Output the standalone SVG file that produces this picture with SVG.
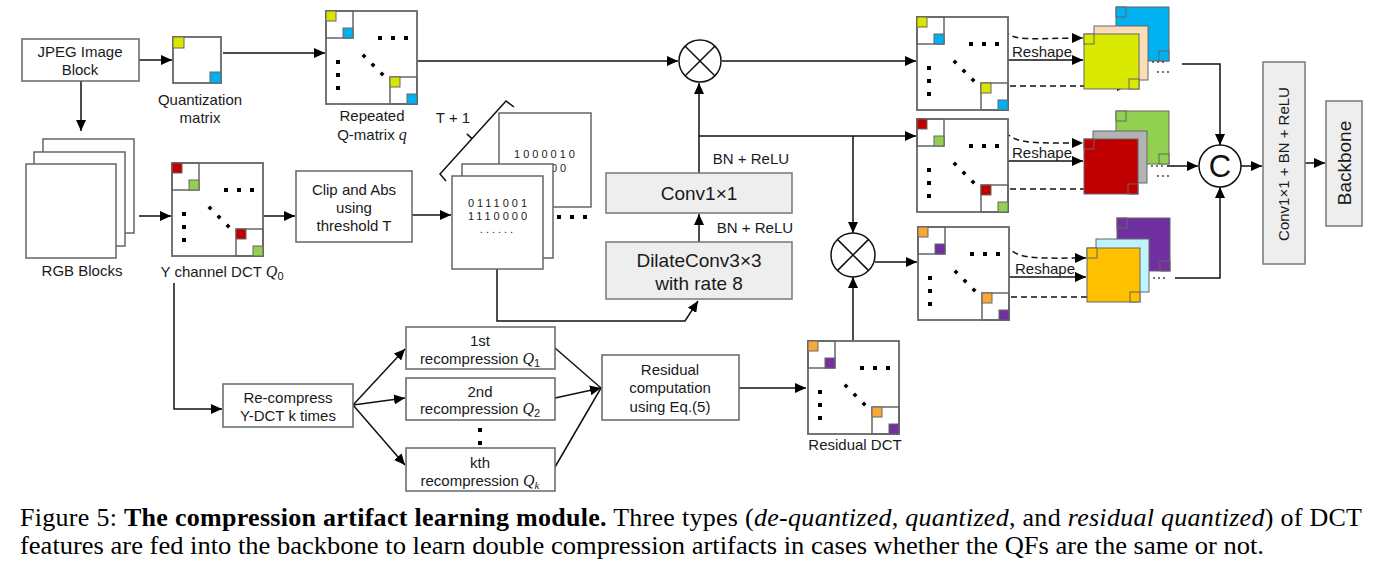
<svg xmlns="http://www.w3.org/2000/svg" xmlns:xlink="http://www.w3.org/1999/xlink" width="1382" height="566" viewBox="0 0 1382 566">
<style>
.t{font-family:"Liberation Sans",Arial,sans-serif;font-size:15px;fill:#1a1a1a;text-anchor:middle}
.tl{font-family:"Liberation Sans",Arial,sans-serif;font-size:19px;fill:#1a1a1a;text-anchor:middle}
.bin{font-family:"Liberation Sans",Arial,sans-serif;font-size:11px;letter-spacing:3px;fill:#222;text-anchor:middle}
.m{font-family:"Liberation Serif","Times New Roman",serif;font-style:italic}
.box{fill:#fff;stroke:#666;stroke-width:1.5}
.gbox{fill:#eeeeee;stroke:#777;stroke-width:1.5}
.mf{fill:#fff;stroke:#666;stroke-width:1.8}
.ms{fill:none;stroke:#666;stroke-width:1.5}
.sq{stroke:#666;stroke-width:1}
.ln{fill:none;stroke:#111;stroke-width:1.5}
.ar{fill:none;stroke:#111;stroke-width:1.5;marker-end:url(#ah)}
.da{fill:none;stroke:#111;stroke-width:1.5;stroke-dasharray:6 4;marker-end:url(#ah)}
.cir{fill:#fff;stroke:#111;stroke-width:1.5}
.cap{font-family:"Liberation Serif","Times New Roman",serif;font-size:26px;fill:#000}
.dot{fill:#000}
.sd{fill:#333}
</style>
<defs>
<marker id="ah" markerUnits="userSpaceOnUse" markerWidth="11" markerHeight="10" refX="11" refY="5" orient="auto">
<path d="M0,0 L11,5 L0,10 z" fill="#000"/>
</marker>
<g id="mtx">
<rect x="0" y="0" width="91" height="93" class="mf"/>
<rect x="0" y="0" width="27" height="27" class="ms"/>
<rect x="64" y="66" width="27" height="27" class="ms"/>
<rect x="52" y="25" width="4" height="4" class="dot"/>
<rect x="65" y="25" width="4" height="4" class="dot"/>
<rect x="78" y="25" width="4" height="4" class="dot"/>
<rect x="10" y="49" width="4" height="4" class="dot"/>
<rect x="10" y="62" width="4" height="4" class="dot"/>
<rect x="10" y="75" width="4" height="4" class="dot"/>
<polygon points="38,42.5 40.5,45 38,47.5 35.5,45" class="dot"/>
<polygon points="47,51.5 49.5,54 47,56.5 44.5,54" class="dot"/>
<polygon points="56,60.5 58.5,63 56,65.5 53.5,63" class="dot"/>
</g>
<g id="ell">
<circle cx="0" cy="0" r="0.9" class="sd"/>
<circle cx="5" cy="0" r="0.9" class="sd"/>
<circle cx="10" cy="0" r="0.9" class="sd"/>
</g>
</defs>
<rect width="1382" height="566" fill="#fff"/>

<g id="connectors">
<path class="ar" d="M139,60 H172"/>
<path class="ar" d="M223,53 H325"/>
<path class="ar" d="M81,81 V131"/>
<path class="ar" d="M139,216 H171"/>
<path class="ar" d="M263,216 H295"/>
<path class="ar" d="M412,215 H451"/>
<path class="ar" d="M497,269 V321 H685 L698,301"/>
<path class="ar" d="M699,242 V214"/>
<path class="ar" d="M699,173 V83"/>
<path class="ar" d="M418,61 H678"/>
<path class="ar" d="M722,61 H916"/>
<path class="ar" d="M699,136 H916"/>
<path class="ar" d="M853,136 V233"/>
<path class="ar" d="M853,341 V277"/>
<path class="ar" d="M875,262 H917"/>
<path class="ar" d="M174,283 V409 H222"/>
<path class="ar" d="M353,405 L405,349"/>
<path class="ar" d="M353,405 L405,398"/>
<path class="ar" d="M353,405 L405,465"/>
<path class="ln" d="M555,348 L601,388"/>
<path class="ar" d="M555,398 L601,388"/>
<path class="ln" d="M555,467 L601,388"/>
<path class="ar" d="M739,388 H806"/>
<path class="da" d="M924,24 C975,27 1000,29 1010,35 S1045,38 1083,38"/>
<path class="ar" d="M1008,60 H1083"/>
<path class="da" d="M990,86 H1128"/>
<path class="da" d="M926,124 C980,125 1000,128 1010,136 S1045,143 1083,143"/>
<path class="ar" d="M1008,161 H1083"/>
<path class="da" d="M990,189 H1128"/>
<path class="da" d="M927,232 C980,234 1000,238 1010,249 S1045,258 1086,258"/>
<path class="ar" d="M1009,277 H1086"/>
<path class="da" d="M991,297 H1128"/>
<path class="ar" d="M1182,64 H1220 V145"/>
<path class="ar" d="M1167,166 H1198"/>
<path class="ar" d="M1175,278 H1220 V187"/>
<path class="ar" d="M1241,166 H1262"/>
<path class="ar" d="M1305,163 H1325"/>
</g>

<g id="jpeg-block">
<rect x="22" y="39" width="117" height="42" class="box"/>
<text class="t" x="80" y="57">JPEG Image</text>
<text class="t" x="80" y="75">Block</text>
</g>

<g id="quant-matrix">
<rect x="173" y="37" width="48" height="46" class="mf"/>
<rect x="173" y="37" width="11" height="11" fill="#d9e600" class="sq"/>
<rect x="210" y="72" width="11" height="11" fill="#00b0f0" class="sq"/>
<text class="t" x="200" y="105">Quantization</text>
<text class="t" x="200" y="123">matrix</text>
</g>

<g id="repeated-q">
<use href="#mtx" x="326" y="11"/>
<rect x="326" y="11" width="10" height="10" fill="#d9e600" class="sq"/>
<rect x="343" y="28" width="10" height="10" fill="#00b0f0" class="sq"/>
<rect x="390" y="77" width="10" height="10" fill="#d9e600" class="sq"/>
<rect x="407" y="94" width="10" height="10" fill="#00b0f0" class="sq"/>
<text class="t" x="372" y="121">Repeated</text>
<text class="t" x="372" y="140">Q-matrix <tspan class="m" font-size="16">q</tspan></text>
</g>

<g id="rgb-blocks">
<rect x="43" y="139" width="91" height="94" class="box"/>
<rect x="34" y="152" width="91" height="94" class="box"/>
<rect x="26" y="164" width="90" height="94" class="box"/>
<text class="t" x="82" y="276">RGB Blocks</text>
</g>

<g id="y-dct">
<use href="#mtx" x="172" y="163"/>
<rect x="172" y="163" width="10" height="10" fill="#c00000" class="sq"/>
<rect x="189" y="180" width="10" height="10" fill="#92d050" class="sq"/>
<rect x="236" y="229" width="10" height="10" fill="#c00000" class="sq"/>
<rect x="253" y="246" width="10" height="10" fill="#92d050" class="sq"/>
<text class="t" x="222" y="277">Y channel DCT <tspan class="m" font-size="16">Q</tspan><tspan font-size="11" dy="3">0</tspan></text>
</g>

<g id="clip-abs">
<rect x="296" y="171" width="116" height="71" class="box"/>
<text class="t" x="354" y="195">Clip and Abs</text>
<text class="t" x="354" y="213">using</text>
<text class="t" x="354" y="231">threshold T</text>
</g>

<g id="binary-maps">
<rect x="499" y="113" width="92" height="94" class="box"/>
<text class="bin" x="546" y="158">1000010</text>
<text class="bin" x="560" y="172" text-anchor="start">00</text>
<rect x="462" y="164" width="91" height="94" class="box"/>
<rect x="452" y="176" width="91" height="93" class="box"/>
<text class="bin" x="499" y="207">0111001</text>
<text class="bin" x="499" y="220">1110000</text>
<text class="bin" x="498" y="233" font-size="9" letter-spacing="0">......</text>
<rect x="557" y="215" width="4" height="4" class="dot"/>
<rect x="570" y="215" width="4" height="4" class="dot"/>
<rect x="583" y="215" width="4" height="4" class="dot"/>
<path class="ln" d="M446,181 L440,174 L506,101 L514,107 M472,138.6 L466.8,133.9"/>
<text class="t" x="453" y="123">T + 1</text>
</g>

<g id="dilate-conv">
<rect x="606" y="242" width="186" height="57" class="gbox"/>
<text class="tl" x="699" y="267">DilateConv3×3</text>
<text class="tl" x="699" y="290">with rate 8</text>
<text class="t" x="755" y="233">BN + ReLU</text>
</g>

<g id="conv1x1">
<rect x="606" y="173" width="186" height="40" class="gbox"/>
<text class="tl" x="699" y="200">Conv1×1</text>
<text class="t" x="751" y="164">BN + ReLU</text>
</g>

<g id="multiply-1">
<circle cx="700" cy="61" r="21" class="cir"/>
<path class="ln" d="M685.2,46.2 L714.8,75.8 M714.8,46.2 L685.2,75.8"/>
</g>

<g id="multiply-2">
<circle cx="853" cy="255" r="22" class="cir"/>
<path class="ln" d="M837.4,239.4 L868.6,270.6 M868.6,239.4 L837.4,270.6"/>
</g>

<g id="recompress">
<rect x="223" y="384" width="130" height="43" class="box"/>
<text class="t" x="288" y="403">Re-compress</text>
<text class="t" x="288" y="421">Y-DCT k times</text>
</g>

<g id="recomp-1">
<rect x="406" y="327" width="149" height="42" class="box"/>
<text class="t" x="480" y="346">1st</text>
<text class="t" x="480" y="364">recompression <tspan class="m" font-size="16">Q</tspan><tspan font-size="11" dy="3">1</tspan></text>
</g>

<g id="recomp-2">
<rect x="406" y="378" width="149" height="42" class="box"/>
<text class="t" x="480" y="397">2nd</text>
<text class="t" x="480" y="414">recompression <tspan class="m" font-size="16">Q</tspan><tspan font-size="11" dy="3">2</tspan></text>
</g>

<g id="recomp-dots">
<rect x="478" y="428" width="4" height="4" class="dot"/>
<rect x="478" y="441" width="4" height="4" class="dot"/>
</g>

<g id="recomp-k">
<rect x="406" y="448" width="149" height="43" class="box"/>
<text class="t" x="480" y="468">kth</text>
<text class="t" x="480" y="486">recompression <tspan class="m" font-size="16">Q</tspan><tspan class="m" font-size="11" dy="3">k</tspan></text>
</g>

<g id="residual-comp">
<rect x="602" y="355" width="137" height="65" class="box"/>
<text class="t" x="670" y="375">Residual</text>
<text class="t" x="670" y="393">computation</text>
<text class="t" x="670" y="412">using Eq.(5)</text>
</g>

<g id="residual-dct">
<use href="#mtx" x="808" y="341"/>
<rect x="808" y="341" width="10" height="10" fill="#f6a93b" class="sq"/>
<rect x="825" y="358" width="10" height="10" fill="#7030a0" class="sq"/>
<rect x="872" y="407" width="10" height="10" fill="#f6a93b" class="sq"/>
<rect x="889" y="424" width="10" height="10" fill="#7030a0" class="sq"/>
<text class="t" x="855" y="450">Residual DCT</text>
</g>

<g id="dct-row1">
<use href="#mtx" x="917" y="17"/>
<rect x="917" y="17" width="10" height="10" fill="#d9e600" class="sq"/>
<rect x="934" y="34" width="10" height="10" fill="#00b0f0" class="sq"/>
<rect x="981" y="83" width="10" height="10" fill="#d9e600" class="sq"/>
<rect x="998" y="100" width="10" height="10" fill="#00b0f0" class="sq"/>
</g>

<g id="dct-row2">
<use href="#mtx" x="917" y="119"/>
<rect x="917" y="119" width="10" height="10" fill="#c00000" class="sq"/>
<rect x="934" y="136" width="10" height="10" fill="#92d050" class="sq"/>
<rect x="981" y="185" width="10" height="10" fill="#c00000" class="sq"/>
<rect x="998" y="202" width="10" height="10" fill="#92d050" class="sq"/>
</g>

<g id="dct-row3">
<use href="#mtx" x="918" y="227"/>
<rect x="918" y="227" width="10" height="10" fill="#f6a93b" class="sq"/>
<rect x="935" y="244" width="10" height="10" fill="#7030a0" class="sq"/>
<rect x="982" y="293" width="10" height="10" fill="#f6a93b" class="sq"/>
<rect x="999" y="310" width="10" height="10" fill="#7030a0" class="sq"/>
</g>

<g id="reshape-labels">
<text class="t" x="1042" y="57">Reshape</text>
<text class="t" x="1042" y="158">Reshape</text>
<text class="t" x="1045" y="274">Reshape</text>
</g>

<g id="stack-row1">
<rect x="1116" y="7" width="53" height="54" fill="#00b0f0" class="sq" stroke-width="1.5"/>
<rect x="1116" y="7" width="10" height="10" fill="#00b0f0" class="sq"/>
<rect x="1159" y="51" width="10" height="10" fill="#00b0f0" class="sq"/>
<rect x="1094" y="26" width="54" height="54" fill="#fbdcb8" class="sq" stroke-width="1.5"/>
<rect x="1084" y="34" width="55" height="55" fill="#d9ea00" class="sq" stroke-width="1.5"/>
<rect x="1084" y="34" width="10" height="10" fill="#d9ea00" class="sq"/>
<rect x="1129" y="79" width="10" height="10" fill="#d9ea00" class="sq"/>
<use href="#ell" x="1153" y="62"/>
<use href="#ell" x="1158" y="72"/>
</g>

<g id="stack-row2">
<rect x="1116" y="111" width="53" height="53" fill="#92d050" class="sq" stroke-width="1.5"/>
<rect x="1116" y="111" width="10" height="10" fill="#92d050" class="sq"/>
<rect x="1159" y="154" width="10" height="10" fill="#92d050" class="sq"/>
<rect x="1093" y="131" width="54" height="52" fill="#b3b3b3" class="sq" stroke-width="1.5"/>
<rect x="1084" y="139" width="54" height="55" fill="#c00000" class="sq" stroke-width="1.5"/>
<rect x="1084" y="139" width="10" height="10" fill="#c00000" class="sq"/>
<rect x="1128" y="184" width="10" height="10" fill="#c00000" class="sq"/>
<use href="#ell" x="1152" y="166"/>
<use href="#ell" x="1158" y="176"/>
</g>

<g id="stack-row3">
<rect x="1117" y="218" width="53" height="53" fill="#7030a0" class="sq" stroke-width="1.5"/>
<rect x="1117" y="218" width="10" height="10" fill="#7030a0" class="sq"/>
<rect x="1160" y="261" width="10" height="10" fill="#7030a0" class="sq"/>
<rect x="1096" y="239" width="53" height="53" fill="#bff4fc" class="sq" stroke-width="1.5"/>
<rect x="1087" y="248" width="53" height="54" fill="#ffc000" class="sq" stroke-width="1.5"/>
<rect x="1087" y="248" width="10" height="10" fill="#ffc000" class="sq"/>
<rect x="1130" y="292" width="10" height="10" fill="#ffc000" class="sq"/>
<use href="#ell" x="1154" y="278"/>
</g>

<g id="concat">
<circle cx="1220" cy="166" r="21" class="cir"/>
<text x="1220" y="177" font-family="'Liberation Sans',Arial,sans-serif" font-size="31" text-anchor="middle" fill="#111">C</text>
</g>

<g id="conv-bn-relu">
<rect x="1263" y="62" width="42" height="202" class="gbox"/>
<text class="t" transform="translate(1289,164) rotate(-90)">Conv1×1 + BN + ReLU</text>
</g>

<g id="backbone">
<rect x="1326" y="101" width="36" height="125" class="gbox"/>
<text class="tl" transform="translate(1351,163) rotate(-90)">Backbone</text>
</g>

<g id="caption">
<text class="cap" x="20" y="526" textLength="1342" lengthAdjust="spacing">Figure 5: <tspan font-weight="bold">The compression artifact learning module.</tspan> Three types (<tspan font-style="italic">de-quantized</tspan>, <tspan font-style="italic">quantized</tspan>, and <tspan font-style="italic">residual quantized</tspan>) of DCT</text>
<text class="cap" x="20" y="554" textLength="1244" lengthAdjust="spacingAndGlyphs">features are fed into the backbone to learn double compression artifacts in cases whether the QFs are the same or not.</text>
</g>
</svg>
